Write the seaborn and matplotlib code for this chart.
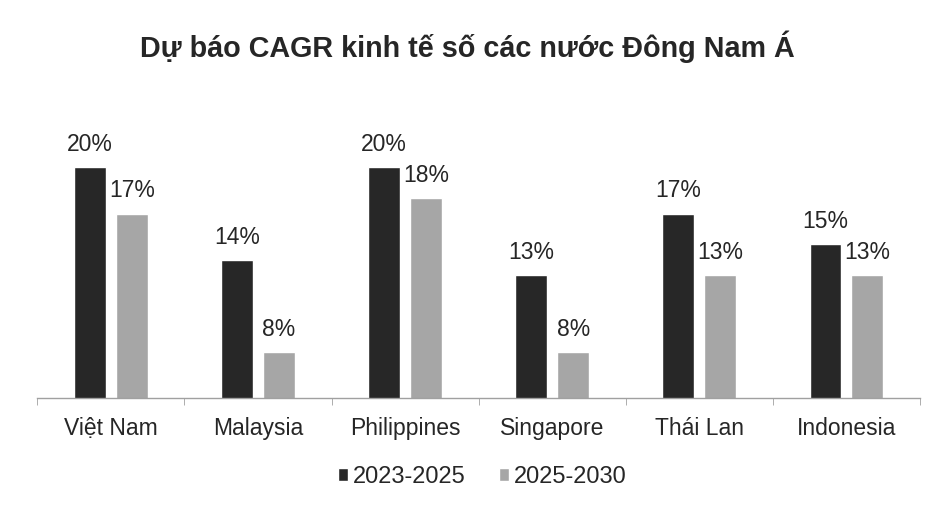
import pandas as pd
import numpy as np
import matplotlib
matplotlib.use("Agg")
import matplotlib.pyplot as plt
import seaborn as sns

# data
countries = ["Việt Nam", "Malaysia", "Philippines", "Singapore", "Thái Lan", "Indonesia"]
cagr_2023_2025 = [20, 14, 20, 13, 17, 15]
cagr_2025_2030 = [17, 8, 18, 8, 13, 13]
periods = ["2023-2025", "2025-2030"]

df = pd.DataFrame({
    "country": countries * 2,
    "period": [periods[0]] * len(countries) + [periods[1]] * len(countries),
    "cagr": cagr_2023_2025 + cagr_2025_2030,
})

sns.set_style("white")
plt.rcParams["font.family"] = ["Liberation Sans", "DejaVu Sans"]

fig = plt.figure(figsize=(9.34, 5.07), dpi=100)
ax = fig.add_axes([0.04, 0.215, 0.945, 0.576])

sns.barplot(data=df, x="country", y="cagr", hue="period",
            palette=["#272727", "#a6a6a6"], width=0.57, gap=0.24,
            saturation=1, ax=ax)

for cont in ax.containers:
    ax.bar_label(cont, fmt="%d%%", padding=8, fontsize=16.5, color="#262626")

ax.set_ylim(5, 24)
ax.set_xlim(-0.5, len(countries) - 0.5)
ax.set_yticks([])
ax.set_xlabel("")
ax.set_ylabel("")
for s in ["top", "right", "left"]:
    ax.spines[s].set_visible(False)
ax.spines["bottom"].set_color("#a0a0a0")
ax.spines["bottom"].set_linewidth(1.0)

# category separators as small ticks below the axis
ax.set_xticks(np.arange(-0.5, len(countries)), minor=True)
ax.tick_params(axis="x", which="minor", length=5, color="#a0a0a0", bottom=True)
ax.tick_params(axis="x", which="major", length=0, pad=14, labelsize=16.5, labelcolor="#262626")

fig.text(0.5, 0.907, "Dự báo CAGR kinh tế số các nước Đông Nam Á",
         ha="center", va="center", fontsize=20.7, fontweight="bold", color="#262626")

ax.legend(loc="center", bbox_to_anchor=(0.504, -0.27), ncol=2, frameon=False,
          fontsize=17, handlelength=0.45, handleheight=0.45, handletextpad=0.2,
          columnspacing=1.4, labelcolor="#262626")

fig.savefig("out.png", dpi=100, facecolor="white")
